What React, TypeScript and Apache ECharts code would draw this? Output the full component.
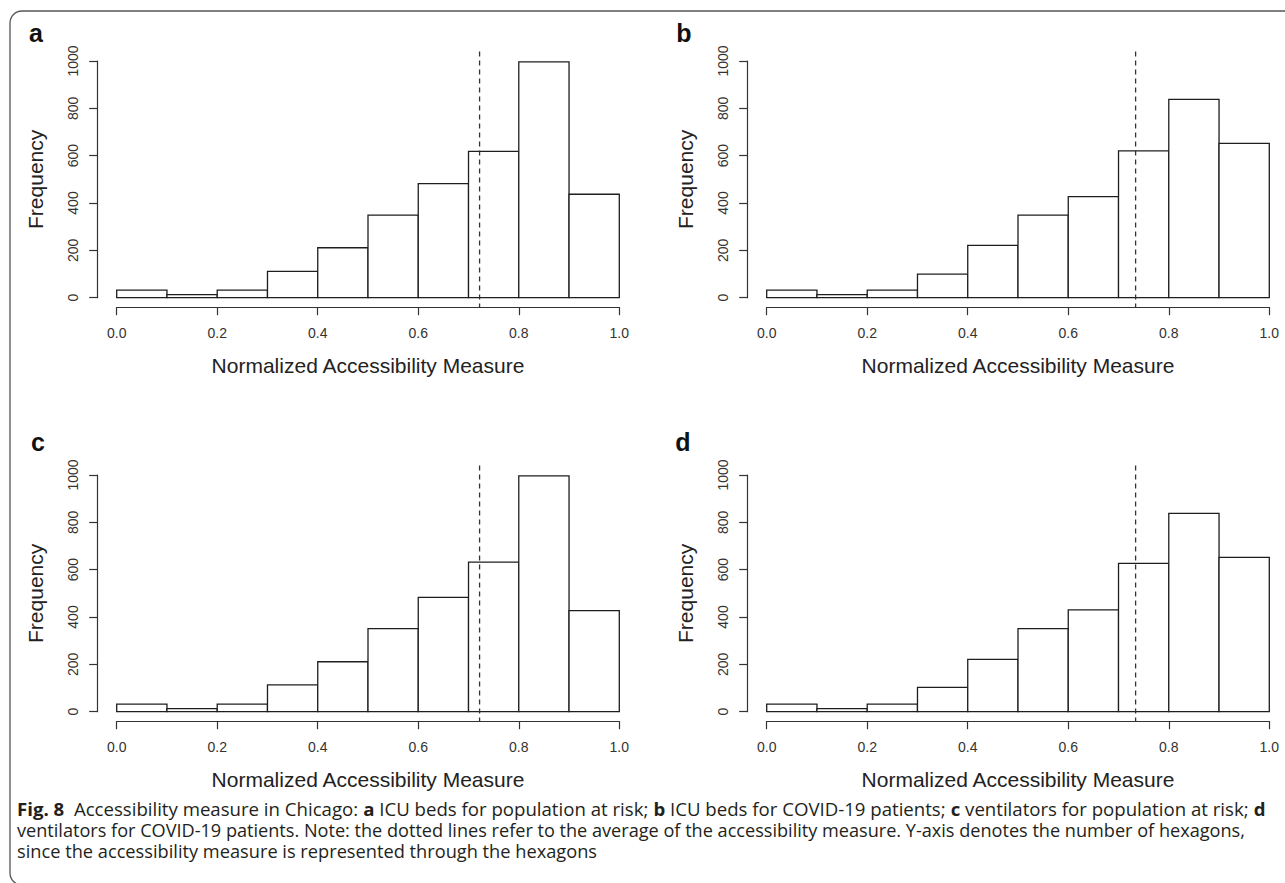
import React, { useEffect, useRef } from "react";
import * as echarts from "echarts";

// ---- data ----
const binEdges = [0, 0.1, 0.2, 0.3, 0.4, 0.5, 0.6, 0.7, 0.8, 0.9, 1.0];
const countsA = [32, 13, 32, 111, 211, 349, 482, 618, 996, 437];
const countsB = [32, 13, 32, 100, 221, 349, 427, 620, 838, 652];
const countsC = [32, 13, 32, 113, 211, 351, 483, 632, 996, 427];
const countsD = [32, 13, 32, 103, 221, 351, 430, 627, 838, 652];
const meanValues = [0.722, 0.734, 0.722, 0.734];
const panelLetters = ["a", "b", "c", "d"];
const xTickValues = [0, 0.2, 0.4, 0.6, 0.8, 1.0];
const xTickLabels = ["0.0", "0.2", "0.4", "0.6", "0.8", "1.0"];
const yTickValues = [0, 200, 400, 600, 800, 1000];
const yTickLabels = ["0", "200", "400", "600", "800", "1000"];
const xAxisTitle = "Normalized Accessibility Measure";
const yAxisTitle = "Frequency";

const captionLine1 = [
  { t: "Fig. 8", b: true },
  { t: "  Accessibility measure in Chicago: ", b: false },
  { t: "a", b: true },
  { t: " ICU beds for population at risk; ", b: false },
  { t: "b", b: true },
  { t: " ICU beds for COVID-19 patients; ", b: false },
  { t: "c", b: true },
  { t: " ventilators for population at risk; ", b: false },
  { t: "d", b: true },
];
const captionLine2 = [
  {
    t: "ventilators for COVID-19 patients. Note: the dotted lines refer to the average of the accessibility measure. Y-axis denotes the number of hexagons,",
    b: false,
  },
];
const captionLine3 = [
  { t: "since the accessibility measure is represented through the hexagons", b: false },
];

// ---- layout ----
const PLOT_W = 502.6;
const PLOT_H = 236.7;
const panels = [
  { left: 116.7, top: 61, letterX: 36, letterY: 33 },
  { left: 766.7, top: 61, letterX: 684, letterY: 33 },
  { left: 116.7, top: 475, letterX: 38, letterY: 442 },
  { left: 766.7, top: 475, letterX: 683, letterY: 442 },
];
const allCounts = [countsA, countsB, countsC, countsD];

const AXIS_FONT = "'Liberation Sans', Arial, Helvetica, sans-serif";
const CAP_FONT = "'Open Sans', 'Noto Sans', sans-serif";
const CAP_SIZE = 18.5;
const CAP_COLOR = "#231f20";

function measure(ctx: CanvasRenderingContext2D | null, segs: { t: string; b: boolean }[]) {
  if (!ctx) return 0;
  let w = 0;
  for (const s of segs) {
    ctx.font = `${s.b ? "bold " : ""}${CAP_SIZE}px ${CAP_FONT}`;
    w += ctx.measureText(s.t).width;
  }
  return w;
}

function captionGroup(
  ctx: CanvasRenderingContext2D | null,
  segs: { t: string; b: boolean }[],
  y: number,
  targetW: number
) {
  const natural = measure(ctx, segs);
  const scaleX = natural > 0 ? targetW / natural : 1;
  const text = segs.map((s) => (s.b ? `{b|${s.t}}` : `{r|${s.t}}`)).join("");
  return {
    type: "group",
    x: 17,
    y,
    scaleX,
    children: [
      {
        type: "text",
        x: 0,
        y: 0,
        style: {
          text,
          textVerticalAlign: "middle",
          verticalAlign: "middle",
          rich: {
            b: { fontFamily: CAP_FONT, fontSize: CAP_SIZE, fontWeight: "bold", fill: CAP_COLOR, color: CAP_COLOR },
            r: { fontFamily: CAP_FONT, fontSize: CAP_SIZE, fontWeight: "normal", fill: CAP_COLOR, color: CAP_COLOR },
          },
        },
      },
    ],
  };
}

export default function App() {
  const ref = useRef<HTMLDivElement>(null);

  useEffect(() => {
    if (!ref.current) return;
    const chart = echarts.init(ref.current, null, { renderer: "svg" });
    const canvas = document.createElement("canvas");
    const ctx = canvas.getContext("2d");

    const grids = panels.map((p) => ({
      left: p.left,
      top: p.top,
      width: PLOT_W,
      height: PLOT_H,
      containLabel: false,
      outerBoundsMode: "none",
    }));

    const xAxes = panels.map((_, i) => ({
      type: "value",
      gridIndex: i,
      position: "bottom",
      min: xTickValues[0],
      max: xTickValues[xTickValues.length - 1],
      interval: 0.2,
      offset: 9.5,
      axisLine: { show: true, onZero: false, lineStyle: { color: "#333", width: 1.2 } },
      axisTick: { show: true, length: 8, lineStyle: { color: "#333", width: 1.2 } },
      axisLabel: {
        margin: 19,
        fontFamily: AXIS_FONT,
        fontSize: 14,
        color: "#333",
        showMinLabel: true,
        showMaxLabel: true,
        formatter: (v: number) => {
          const k = xTickValues.findIndex((t) => Math.abs(t - v) < 1e-6);
          return k >= 0 ? xTickLabels[k] : "";
        },
      },
      splitLine: { show: false },
      name: xAxisTitle,
      nameLocation: "middle",
      nameGap: 47.5,
      nameTextStyle: { fontFamily: AXIS_FONT, fontSize: 21, color: "#222" },
    }));

    const yAxes = panels.map((_, i) => ({
      type: "value",
      gridIndex: i,
      position: "left",
      min: yTickValues[0],
      max: yTickValues[yTickValues.length - 1],
      interval: 200,
      offset: 19,
      axisLine: { show: true, onZero: false, lineStyle: { color: "#333", width: 1.2 } },
      axisTick: { show: true, length: 8.5, lineStyle: { color: "#333", width: 1.2 } },
      axisLabel: {
        rotate: 90,
        margin: 18,
        fontFamily: AXIS_FONT,
        fontSize: 14,
        color: "#333",
        showMinLabel: true,
        showMaxLabel: true,
        formatter: (v: number) => {
          const k = yTickValues.indexOf(v);
          return k >= 0 ? yTickLabels[k] : "";
        },
      },
      splitLine: { show: false },
      name: yAxisTitle,
      nameLocation: "middle",
      nameRotate: 90,
      nameGap: 52,
      nameTextStyle: { fontFamily: AXIS_FONT, fontSize: 21, color: "#222" },
    }));

    const series: any[] = [];
    allCounts.forEach((counts, i) => {
      series.push({
        type: "custom",
        xAxisIndex: i,
        yAxisIndex: i,
        clip: false,
        data: counts.map((c, k) => [binEdges[k], binEdges[k + 1], c]),
        renderItem: (params: any, api: any) => {
          const p0 = api.coord([api.value(0), api.value(2)]);
          const p1 = api.coord([api.value(1), 0]);
          return {
            type: "rect",
            shape: { x: p0[0], y: p0[1], width: p1[0] - p0[0], height: p1[1] - p0[1] },
            style: { fill: "#fff", stroke: "#1e1e1e", lineWidth: 1.3 },
          };
        },
      });
      series.push({
        type: "custom",
        xAxisIndex: i,
        yAxisIndex: i,
        clip: false,
        z: 5,
        data: [[meanValues[i]]],
        renderItem: (params: any, api: any) => {
          const top = api.coord([api.value(0), 1040]);
          const bot = api.coord([api.value(0), -40]);
          return {
            type: "line",
            shape: { x1: top[0], y1: top[1], x2: bot[0], y2: bot[1] },
            style: { stroke: "#333", lineWidth: 1.3, lineDash: [5, 4] },
          };
        },
      });
    });

    const graphic: any[] = [
      {
        type: "rect",
        shape: { x: 10, y: 11, width: 1300, height: 874, r: 12 },
        style: { fill: "none", stroke: "#555", lineWidth: 1.3 },
        z: -10,
        silent: true,
      },
      ...panels.map((p, i) => ({
        type: "text",
        x: p.letterX,
        y: p.letterY,
        style: {
          text: panelLetters[i],
          fontFamily: AXIS_FONT,
          fontSize: 25,
          fontWeight: "bold",
          fill: "#111",
          textAlign: "center",
          textVerticalAlign: "middle",
          align: "center",
          verticalAlign: "middle",
        },
      })),
      captionGroup(ctx, captionLine1, 809, 1249),
      captionGroup(ctx, captionLine2, 829.5, 1229),
      captionGroup(ctx, captionLine3, 850, 580),
    ];

    chart.setOption({
      animation: false,
      backgroundColor: "#fff",
      grid: grids,
      xAxis: xAxes,
      yAxis: yAxes,
      series,
      graphic,
    } as any);

    return () => {
      chart.dispose();
    };
  }, []);

  return (
    <div
      ref={ref}
      style={{ position: "fixed", left: 0, top: 0, width: 1285, height: 883, background: "#fff" }}
    />
  );
}
